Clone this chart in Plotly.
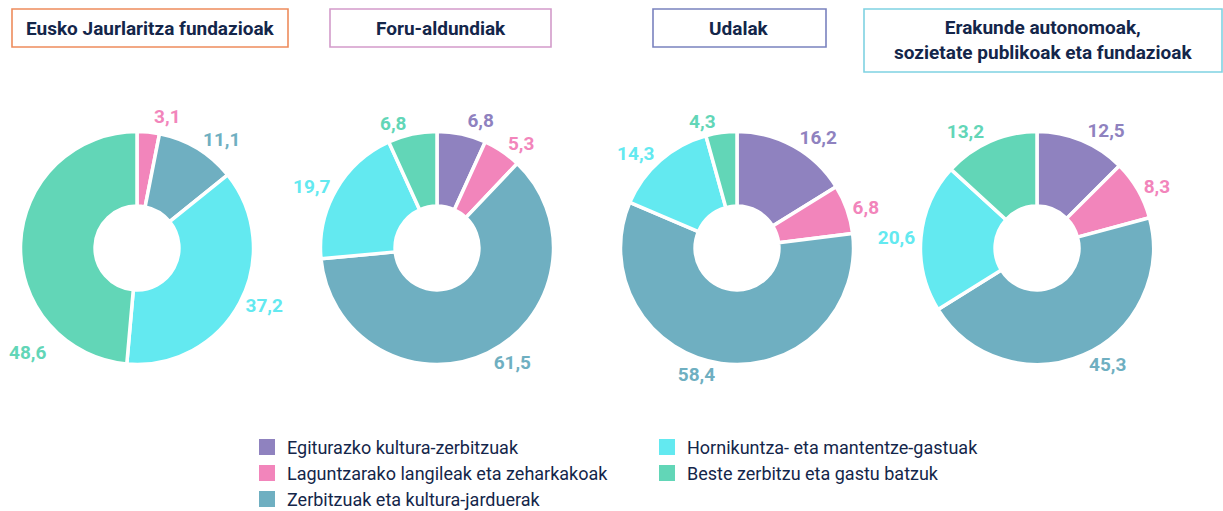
import plotly.graph_objects as go

categories = [
    "Egiturazko kultura-zerbitzuak",
    "Laguntzarako langileak eta zeharkakoak",
    "Zerbitzuak eta kultura-jarduerak",
    "Hornikuntza- eta mantentze-gastuak",
    "Beste zerbitzu eta gastu batzuk",
]
titles = [
    "Eusko Jaurlaritza fundazioak",
    "Foru-aldundiak",
    "Udalak",
    "Erakunde autonomoak,<br>sozietate publikoak eta fundazioak",
]
eusko = [0.0, 3.1, 11.1, 37.2, 48.6]
foru = [6.8, 5.3, 61.5, 19.7, 6.8]
udalak = [16.2, 6.8, 58.4, 14.3, 4.3]
erakunde = [12.5, 8.3, 45.3, 20.6, 13.2]
series = [eusko, foru, udalak, erakunde]

colors = ["#8f82bf", "#f285bb", "#6fafc1", "#63e9f0", "#62d6b7"]
box_colors = ["#ee8c5c", "#d39bca", "#7a82bf", "#7fd2e2"]
text_dark = "#14264a"

W, H = 1223, 511
centers_x = [137, 437, 737, 1037]
cy, r = 248, 116.5
box_x = [(12, 288), (330, 551), (653, 826), (864, 1222)]
box_y = [(9, 47), (9, 47), (9, 47), (9, 72)]


def fmt(v):
    return f"{v:.1f}".replace(".", ",")


fig = go.Figure()
annotations = []
for k, (vals, cx) in enumerate(zip(series, centers_x)):
    labels_txt = []
    for j, (v, c) in enumerate(zip(vals, colors)):
        if v <= 0:
            labels_txt.append("")
        elif k == 0 and j == 4:
            # this label would be clipped at the left edge: drawn as annotation below
            labels_txt.append("")
            annotations.append(dict(
                text=fmt(v), xref="paper", yref="paper",
                x=(cx - 110) / W, y=1 - (cy + 104) / H,
                xanchor="center", yanchor="middle", showarrow=False,
                font=dict(family="Roboto", size=19, color=c, weight="bold")))
        else:
            labels_txt.append(f'<span style="color:{c}">{fmt(v)}</span>')
    fig.add_trace(go.Pie(
        labels=categories,
        values=vals,
        text=labels_txt,
        textinfo="text",
        textposition="outside",
        sort=False,
        direction="clockwise",
        rotation=0,
        hole=0.36,
        automargin=False,
        marker=dict(colors=colors, line=dict(color="white", width=3.5)),
        outsidetextfont=dict(family="Roboto", size=19, color="white", weight="bold"),
        showlegend=False,
        hoverinfo="label+value",
        domain=dict(x=[(cx - r) / W, (cx + r) / W],
                    y=[1 - (cy + r) / H, 1 - (cy - r) / H]),
    ))

shapes = []
for t, (x0, x1), (y0, y1), bc in zip(titles, box_x, box_y, box_colors):
    shapes.append(dict(type="rect", xref="paper", yref="paper",
                       x0=x0 / W, x1=x1 / W, y0=1 - y1 / H, y1=1 - y0 / H,
                       line=dict(color=bc, width=1.6), fillcolor="rgba(0,0,0,0)"))
    annotations.append(dict(text=t, xref="paper", yref="paper",
                            x=(x0 + x1) / 2 / W, y=1 - (y0 + y1) / 2 / H,
                            xanchor="center", yanchor="middle", showarrow=False,
                            font=dict(family="Roboto", size=19, color=text_dark, weight="bold")))

# manual legend, two columns (column-major order)
leg_cols_x = [259, 659]
leg_rows_y = [447, 473, 499]
for i, (cat, col) in enumerate(zip(categories, colors)):
    c = 0 if i < 3 else 1
    rr = i if i < 3 else i - 3
    sx, sy = leg_cols_x[c], leg_rows_y[rr]
    shapes.append(dict(type="rect", xref="paper", yref="paper",
                       x0=sx / W, x1=(sx + 16) / W, y0=1 - (sy + 8) / H, y1=1 - (sy - 8) / H,
                       line=dict(width=0), fillcolor=col))
    annotations.append(dict(text=cat, xref="paper", yref="paper",
                            x=(sx + 26) / W, y=1 - sy / H, xanchor="left", yanchor="middle",
                            showarrow=False,
                            font=dict(family="Roboto", size=18, color=text_dark)))

fig.update_layout(
    width=W, height=H,
    margin=dict(l=0, r=0, t=0, b=0, pad=0, autoexpand=False),
    paper_bgcolor="white", plot_bgcolor="white",
    shapes=shapes, annotations=annotations,
)
fig.write_html(
    "out.html",
    config={"displayModeBar": False},
    post_script="document.body.style.margin='0';document.body.style.overflow='hidden';",
)
